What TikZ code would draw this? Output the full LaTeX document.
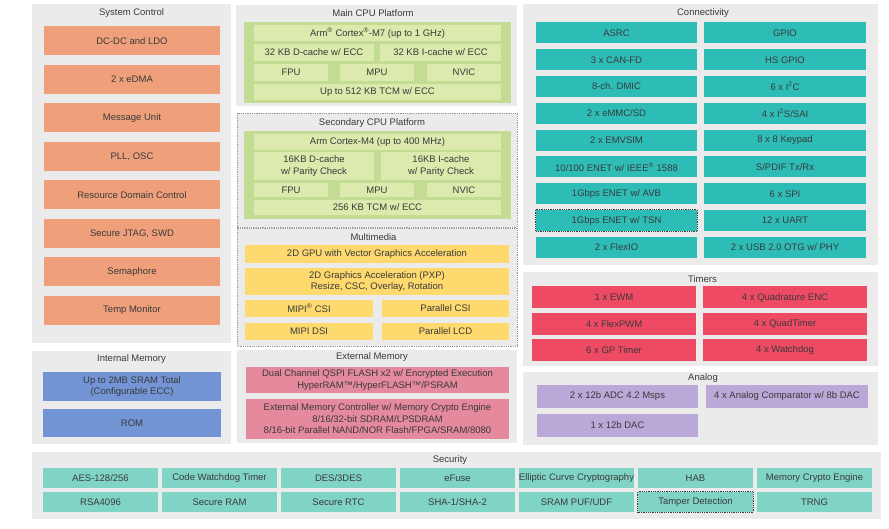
\documentclass[tikz,border=0pt]{standalone}
\usepackage{fontspec}
\setmainfont{Liberation Sans}
\usepackage{tikz}
\definecolor{pnlgray}{HTML}{EBEBEB}
\definecolor{txt}{HTML}{3A3A3A}
\definecolor{orng}{HTML}{EFA07B}
\definecolor{blu}{HTML}{7395D6}
\definecolor{grnD}{HTML}{C4DB93}
\definecolor{grnL}{HTML}{DCEAAE}
\definecolor{yel}{HTML}{FDD96E}
\definecolor{pnk}{HTML}{E5899D}
\definecolor{teal}{HTML}{2DBDB6}
\definecolor{redt}{HTML}{EE4A63}
\definecolor{purp}{HTML}{B9A8D8}
\definecolor{secg}{HTML}{80D4C6}

\begin{document}
\begin{tikzpicture}[x=1pt,y=-1pt,every node/.style={font=\fontsize{9.5}{11.5}\selectfont,text=txt},blk/.style n args={3}{fill=#1,minimum width=#2pt,minimum height=#3pt,inner sep=0pt,align=center},ttl/.style={inner sep=0pt},pnl/.style={fill=pnlgray},dpnl/.style={fill=pnlgray,draw=gray!80,densely dotted,line width=0.8pt},dbox/.style={draw=txt,densely dotted,line width=0.8pt}]
\useasboundingbox[fill=white] (0,0) rectangle (889,529);
\fill[pnl] (32,4) rectangle (231,343);
\node[ttl] (sysT) at (131.5,13) {System Control};
\foreach \lbl [count=\i from 0] in %
{DC-DC and LDO,2 x eDMA,Message Unit,{PLL, OSC},Resource Domain Control,{Secure JTAG, SWD},Semaphore,Temp Monitor} {
   \node[blk={orng}{176}{29}] (sc\i) at (132,41+38.5*\i) {\lbl};
}
\fill[pnl] (32,351) rectangle (231,444);
\node[ttl] (imT) at (131.5,359) {Internal Memory};
\node[blk={blu}{178}{29}] (sram) at (132,386.5) {Up to 2MB SRAM Total\\(Configurable ECC)};
\node[blk={blu}{178}{28}] (rom) at (132,423) {ROM};
\fill[pnl] (236,5) rectangle (517,106);
\node[ttl] (mcT) at (373,13) {Main CPU Platform};
\fill[grnD] (244,22) rectangle (511,103);
\node[blk={grnL}{247}{16}] (m7) at (377.5,33) {Arm\textsuperscript{®} Cortex\textsuperscript{®}-M7 (up to 1 GHz)};
\node[blk={grnL}{120}{17}] (m7d) at (314,52.5) {32 KB D-cache w/ ECC};
\node[blk={grnL}{121}{17}] (m7i) at (440.5,52.5) {32 KB I-cache w/ ECC};
\foreach \lbl/\cx [count=\i] in {FPU/291,MPU/377,NVIC/464} {
   \node[blk={grnL}{74}{17}] (m7u\i) at (\cx,72.5) {\lbl};
}
\node[blk={grnL}{247}{16}] (m7tcm) at (377.5,92) {Up to 512 KB TCM w/ ECC};
\draw[dpnl] (237,113) rectangle (517,227);
\node[ttl] (scT) at (372,123) {Secondary CPU Platform};
\fill[grnD] (244,131) rectangle (511,219);
\node[blk={grnL}{247}{16}] (m4) at (377.5,142) {Arm Cortex-M4 (up to 400 MHz)};
\node[blk={grnL}{120}{28}] (m4d) at (314,166) {16KB D-cache\\w/ Parity Check};
\node[blk={grnL}{120}{28}] (m4i) at (441,166) {16KB I-cache\\w/ Parity Check};
\foreach \lbl/\cx [count=\i] in {FPU/291,MPU/377,NVIC/464} {
   \node[blk={grnL}{74}{14}] (m4u\i) at (\cx,190) {\lbl};
}
\node[blk={grnL}{247}{15}] (m4tcm) at (377.5,207.5) {256 KB TCM w/ ECC};
\draw[dpnl] (237,228) rectangle (517,346);
\node[ttl] (mmT) at (373.5,237) {Multimedia};
\node[blk={yel}{264}{18}] (gpu) at (377,254) {2D GPU with Vector Graphics Acceleration};
\node[blk={yel}{264}{27}] (pxp) at (377,281.5) {2D Graphics Acceleration (PXP)\\Resize, CSC, Overlay, Rotation};
\node[blk={yel}{128}{17}] (csi) at (309,308.5) {MIPI\textsuperscript{®} CSI};
\node[blk={yel}{127}{17}] (pcsi) at (445.5,308.5) {Parallel CSI};
\node[blk={yel}{128}{17}] (dsi) at (309,331.5) {MIPI DSI};
\node[blk={yel}{127}{17}] (plcd) at (445.5,331.5) {Parallel LCD};
\fill[pnl] (237,350) rectangle (517,443);
\node[ttl] (emT) at (372,357) {External Memory};
\node[blk={pnk}{263}{26}] (qspi) at (377.5,380) {Dual Channel QSPI FLASH x2 w/ Encrypted Execution\\HyperRAM™/HyperFLASH™/PSRAM};
\node[blk={pnk}{263}{40}] (emc) at (377.5,419) {External Memory Controller w/ Memory Crypto Engine\\8/16/32-bit SDRAM/LPSDRAM\\8/16-bit Parallel NAND/NOR Flash/FPGA/SRAM/8080};
\fill[pnl] (523,4) rectangle (878,265);
\node[ttl] (cnT) at (703,13) {Connectivity};
\foreach \lbl [count=\i from 0] in %
{ASRC,3 x CAN-FD,8-ch. DMIC,2 x eMMC/SD,2 x EMVSIM,10/100 ENET w/ IEEE\textsuperscript{®} 1588,1Gbps ENET w/ AVB,1Gbps ENET w/ TSN,2 x FlexIO} {
   \node[blk={teal}{161}{21}] (cl\i) at (616.5,33+26.8*\i) {\lbl};
}
\foreach \lbl [count=\i from 0] in %
{GPIO,HS GPIO,6 x I\textsuperscript{2}C,4 x I\textsuperscript{2}S/SAI,8 x 8 Keypad,S/PDIF Tx/Rx,6 x SPI,12 x UART,2 x USB 2.0 OTG w/ PHY} {
   \node[blk={teal}{162}{21}] (cr\i) at (785,33+26.8*\i) {\lbl};
}
\draw[dbox] (cl7.north west) rectangle (cl7.south east);
\fill[pnl] (523,272) rectangle (878,366);
\node[ttl] (tmT) at (702.5,279) {Timers};
\foreach \lbl/\rbl [count=\i from 0] in %
{1 x EWM/4 x Quadrature ENC,4 x FlexPWM/4 x QuadTimer,6 x GP Timer/4 x Watchdog} {
   \node[blk={redt}{164}{22}] (tl\i) at (614,297.5+26.2*\i) {\lbl};
   \node[blk={redt}{164}{22}] (tr\i) at (785,297.5+26.2*\i) {\rbl};
}
\fill[pnl] (523,372) rectangle (878,445);
\node[ttl] (anT) at (703,378) {Analog};
\node[blk={purp}{161}{23}] (adc) at (617.5,396.5) {2 x 12b ADC 4.2 Msps};
\node[blk={purp}{162}{23}] (acmp) at (787,396.5) {4 x Analog Comparator w/ 8b DAC};
\node[blk={purp}{161}{23}] (dac) at (617.5,425.5) {1 x 12b DAC};
\fill[pnl] (32,452) rectangle (881,519);
\node[ttl] (seT) at (450,460) {Security};
\foreach \lbl [count=\i from 0] in %
{AES-128/256,Code Watchdog Timer,DES/3DES,eFuse,Elliptic Curve Cryptography,HAB,Memory Crypto Engine} {
   \node[blk={secg}{115}{20}] (sa\i) at (100.5+119*\i,478) {\lbl};
}
\foreach \lbl [count=\i from 0] in %
{RSA4096,Secure RAM,Secure RTC,SHA-1/SHA-2,SRAM PUF/UDF,Tamper Detection,TRNG} {
   \node[blk={secg}{115}{20}] (sb\i) at (100.5+119*\i,502) {\lbl};
}
\draw[dbox] (sb5.north west) rectangle (sb5.south east);
\end{tikzpicture}
\end{document}
